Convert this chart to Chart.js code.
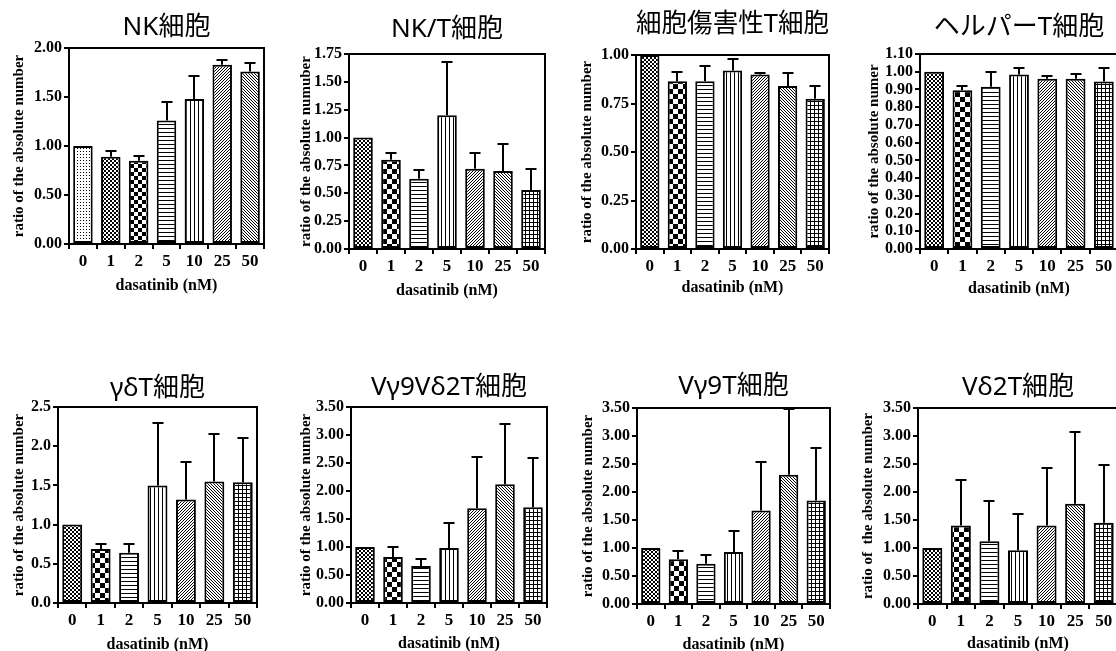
<!DOCTYPE html>
<html>
<head>
<meta charset="utf-8">
<script src="https://cdn.jsdelivr.net/npm/chart.js@4.4.1/dist/chart.umd.min.js"></script>
<style>
  html, body { margin: 0; padding: 0; background: #fff; }
  body { position: relative; width: 1116px; height: 651px; overflow: hidden; }
  canvas { position: absolute; }
</style>
</head>
<body>
<script>
// ---- data ---------------------------------------------------------------
const doses = ['0', '1', '2', '5', '10', '25', '50'];
const xTitle = 'dasatinib (nM)';

// NK cells
const nkTitle = 'NK細胞';
const nkYTitle = 'ratio of the absolute number';
const nkMean = [1.00, 0.89, 0.85, 1.26, 1.48, 1.83, 1.76];
const nkSd   = [0, 0.06, 0.05, 0.19, 0.23, 0.05, 0.09];
const nkTicks = ['0.00', '0.50', '1.00', '1.50', '2.00'];

// NK/T cells
const nktTitle = 'NK/T細胞';
const nktYTitle = 'ratio of the absolute numuber';
const nktMean = [1.00, 0.80, 0.63, 1.20, 0.72, 0.70, 0.53];
const nktSd   = [0, 0.06, 0.08, 0.48, 0.14, 0.24, 0.19];
const nktTicks = ['0.00', '0.25', '0.50', '0.75', '1.00', '1.25', '1.50', '1.75'];

// cytotoxic T cells
const ctlTitle = '細胞傷害性T細胞';
const ctlYTitle = 'ratio of the absolute number';
const ctlMean = [1.00, 0.865, 0.865, 0.92, 0.90, 0.84, 0.775];
const ctlSd   = [0, 0.045, 0.08, 0.06, 0.006, 0.065, 0.065];
const ctlTicks = ['0.00', '0.25', '0.50', '0.75', '1.00'];

// helper T cells
const thTitle = 'ヘルパーT細胞';
const thYTitle = 'ratio of the absolute numer';
const thMean = [1.00, 0.895, 0.915, 0.985, 0.96, 0.96, 0.945];
const thSd   = [0, 0.025, 0.085, 0.035, 0.015, 0.025, 0.075];
const thTicks = ['0.00', '0.10', '0.20', '0.30', '0.40', '0.50', '0.60',
                 '0.70', '0.80', '0.90', '1.00', '1.10'];

// gamma-delta T cells
const gdTitle = 'γδT細胞';
const gdYTitle = 'ratio of the absolute number';
const gdMean = [1.00, 0.69, 0.64, 1.50, 1.32, 1.55, 1.54];
const gdSd   = [0, 0.06, 0.11, 0.80, 0.48, 0.61, 0.56];
const gdTicks = ['0.0', '0.5', '1.0', '1.5', '2.0', '2.5'];

// Vγ9Vδ2 T cells
const g9d2Title = 'Vγ9Vδ2T細胞';
const g9d2YTitle = 'ratio of the absolute number';
const g9d2Mean = [1.00, 0.82, 0.66, 0.98, 1.69, 2.12, 1.71];
const g9d2Sd   = [0, 0.18, 0.13, 0.44, 0.91, 1.08, 0.88];
const g9d2Ticks = ['0.00', '0.50', '1.00', '1.50', '2.00', '2.50', '3.00', '3.50'];

// Vγ9 T cells
const g9Title = 'Vγ9T細胞';
const g9YTitle = 'ratio of the absolute number';
const g9Mean = [1.00, 0.80, 0.72, 0.93, 1.67, 2.31, 1.85];
const g9Sd   = [0, 0.14, 0.16, 0.38, 0.86, 1.17, 0.94];
const g9Ticks = ['0.00', '0.50', '1.00', '1.50', '2.00', '2.50', '3.00', '3.50'];

// Vδ2 T cells
const d2Title = 'Vδ2T細胞';
const d2YTitle = 'ratio of  the absolute number';
const d2Mean = [1.00, 1.40, 1.12, 0.96, 1.40, 1.79, 1.45];
const d2Sd   = [0, 0.82, 0.72, 0.65, 1.02, 1.29, 1.04];
const d2Ticks = ['0.00', '0.50', '1.00', '1.50', '2.00', '2.50', '3.00', '3.50'];

// fill patterns per dose
const nkFills = ['dots', 'check2', 'check4', 'hlines', 'vlines', 'diagUp', 'diagDown'];
const tFills  = ['check2', 'check5', 'hlines', 'vlines', 'diagUp', 'diagDown', 'grid'];

// ---- styling ------------------------------------------------------------
const SERIF = '"Liberation Serif", "Times New Roman", serif';
const SANS = '"Noto Sans", "Noto Sans CJK JP", sans-serif';
const TITLE_SIZE = 26, TITLE_LH = 1.2;
const YT_SIZE = 15, YT_LH = 1.2;
const XT_SIZE = 16, XT_LH = 1.2;
const YTICK_SIZE = 16, XTICK_SIZE = 17;

// panel placement: plot area (l,t,r,b), title centre y, y-title centre x, x-title centre y
const panels = [
  { title: nkTitle,   yTitle: nkYTitle,   mean: nkMean,   sd: nkSd,   ticks: nkTicks,   fills: nkFills,
    area: { l: 69,  t: 48,  r: 264,  b: 244 }, titleY: 28,  yTitleX: 19,  xTitleY: 285 },
  { title: nktTitle,  yTitle: nktYTitle,  mean: nktMean,  sd: nktSd,  ticks: nktTicks,  fills: tFills,
    area: { l: 349, t: 54,  r: 545,  b: 249 }, titleY: 30,  yTitleX: 306, xTitleY: 290 },
  { title: ctlTitle,  yTitle: ctlYTitle,  mean: ctlMean,  sd: ctlSd,  ticks: ctlTicks,  fills: tFills,
    area: { l: 636, t: 55,  r: 829,  b: 249 }, titleY: 25,  yTitleX: 587, xTitleY: 287 },
  { title: thTitle,   yTitle: thYTitle,   mean: thMean,   sd: thSd,   ticks: thTicks,   fills: tFills,
    area: { l: 920, t: 54,  r: 1118, b: 249 }, titleY: 28,  yTitleX: 874, xTitleY: 288 },
  { title: gdTitle,   yTitle: gdYTitle,   mean: gdMean,   sd: gdSd,   ticks: gdTicks,   fills: tFills,
    area: { l: 58,  t: 407, r: 257,  b: 603 }, titleY: 389, yTitleX: 19,  xTitleY: 644 },
  { title: g9d2Title, yTitle: g9d2YTitle, mean: g9d2Mean, sd: g9d2Sd, ticks: g9d2Ticks, fills: tFills,
    area: { l: 351, t: 407, r: 547,  b: 603 }, titleY: 388, yTitleX: 306, xTitleY: 643 },
  { title: g9Title,   yTitle: g9YTitle,   mean: g9Mean,   sd: g9Sd,   ticks: g9Ticks,   fills: tFills,
    area: { l: 637, t: 408, r: 830,  b: 604 }, titleY: 387, yTitleX: 588, xTitleY: 644 },
  { title: d2Title,   yTitle: d2YTitle,   mean: d2Mean,   sd: d2Sd,   ticks: d2Ticks,   fills: tFills,
    area: { l: 918, t: 408, r: 1118, b: 604 }, titleY: 388, yTitleX: 868, xTitleY: 643 }
];

// ---- hatch / texture fills ---------------------------------------------
function makePattern(kind) {
  const tile = document.createElement('canvas');
  const sizes = { dots: 3, check2: 4, check4: 8, check5: 10, hlines: 4, vlines: 4,
                  diagUp: 3, diagDown: 3, grid: 4 };
  const s = sizes[kind];
  tile.width = s; tile.height = s;
  const g = tile.getContext('2d');
  g.fillStyle = '#fff';
  g.fillRect(0, 0, s, s);
  g.fillStyle = '#000';
  const h = s / 2;
  switch (kind) {
    case 'dots': g.fillRect(1, 1, 1, 1); break;
    case 'check2': case 'check4': case 'check5':
      g.fillRect(0, 0, h, h); g.fillRect(h, h, h, h); break;
    case 'hlines': g.fillRect(0, 0, s, 1); break;
    case 'vlines': g.fillRect(0, 0, 1, s); break;
    case 'diagUp': for (let i = 0; i < s; i++) g.fillRect(i, s - 1 - i, 1, 1); break;
    case 'diagDown': for (let i = 0; i < s; i++) g.fillRect(i, i, 1, 1); break;
    case 'grid': g.fillRect(0, 0, s, 1); g.fillRect(0, 0, 1, s); break;
  }
  return g.createPattern(tile, 'repeat');
}

// ---- plugins ------------------------------------------------------------
// closes the plot box on the top and right
const frameBox = {
  id: 'frameBox',
  afterDraw(chart) {
    const { ctx, chartArea: a } = chart;
    ctx.save();
    ctx.strokeStyle = '#000';
    ctx.lineWidth = 2;
    ctx.beginPath();
    ctx.moveTo(a.left, a.top);
    ctx.lineTo(a.right, a.top);
    ctx.lineTo(a.right, a.bottom);
    ctx.stroke();
    ctx.restore();
  }
};

// upper error whiskers from the SD values
function errorBars(sd) {
  return {
    id: 'errorBars',
    afterDatasetsDraw(chart) {
      const { ctx } = chart;
      const y = chart.scales.y;
      const meta = chart.getDatasetMeta(0);
      const vals = chart.data.datasets[0].data;
      ctx.save();
      ctx.strokeStyle = '#000';
      ctx.lineWidth = 2;
      meta.data.forEach((bar, i) => {
        if (!sd[i]) return;
        const x = Math.round(bar.x);
        const y0 = y.getPixelForValue(vals[i]);
        const y1 = Math.round(y.getPixelForValue(vals[i] + sd[i]));
        ctx.beginPath();
        ctx.moveTo(x, y0);
        ctx.lineTo(x, y1);
        ctx.moveTo(x - 5.5, y1);
        ctx.lineTo(x + 5.5, y1);
        ctx.stroke();
      });
      ctx.restore();
    }
  };
}

// ---- build the eight charts --------------------------------------------
panels.forEach(p => {
  const a = p.area;
  const titleLH = TITLE_SIZE * TITLE_LH;
  const canvasTop = Math.round(p.titleY - titleLH / 2);
  const titlePadBottom = a.t - canvasTop - titleLH;
  const canvasLeft = Math.round(p.yTitleX - (YT_SIZE * YT_LH) / 2);
  const yW = a.l - canvasLeft;
  const canvasBottom = Math.round(p.xTitleY + (XT_SIZE * XT_LH) / 2);
  const xH = canvasBottom - a.b;
  const W = a.r + 2 - canvasLeft;
  const H = canvasBottom - canvasTop;

  const cv = document.createElement('canvas');
  cv.width = W; cv.height = H;
  cv.style.left = canvasLeft + 'px';
  cv.style.top = canvasTop + 'px';
  cv.style.width = W + 'px';
  cv.style.height = H + 'px';
  document.body.appendChild(cv);

  const tickVals = p.ticks.map(Number);
  const yMax = tickVals[tickVals.length - 1];
  const step = tickVals[1] - tickVals[0];

  const axisGrid = { display: true, drawOnChartArea: false, drawTicks: true,
                     tickLength: 5, color: '#000', lineWidth: 2 };
  const axisBorder = { display: true, color: '#000', width: 2 };

  new Chart(cv, {
    type: 'bar',
    data: {
      labels: doses,
      datasets: [{
        data: p.mean,
        backgroundColor: p.fills.map(makePattern),
        borderColor: '#000',
        borderWidth: 2,
        borderSkipped: false,
        barPercentage: 0.7,
        categoryPercentage: 1
      }]
    },
    options: {
      responsive: false,
      animation: false,
      devicePixelRatio: 1,
      layout: { padding: { left: 0, right: 2, top: 0, bottom: 0 } },
      plugins: {
        legend: { display: false },
        tooltip: { enabled: false },
        title: {
          display: true, text: p.title, fullSize: false, color: '#000',
          font: { family: SANS, size: TITLE_SIZE, weight: 'normal', lineHeight: TITLE_LH },
          padding: { top: 0, bottom: titlePadBottom }
        }
      },
      scales: {
        x: {
          grid: axisGrid,
          border: axisBorder,
          ticks: { color: '#000', font: { family: SERIF, size: XTICK_SIZE, weight: 'bold' },
                   padding: 2, maxRotation: 0, autoSkip: false },
          title: { display: true, text: xTitle, color: '#000',
                   font: { family: SERIF, size: XT_SIZE, weight: 'bold', lineHeight: XT_LH },
                   padding: { top: 0, bottom: 0 } },
          afterFit(s) { s.height = xH; }
        },
        y: {
          min: 0, max: yMax,
          grid: axisGrid,
          border: axisBorder,
          ticks: {
            stepSize: step, color: '#000', padding: 2, autoSkip: false,
            font: { family: SERIF, size: YTICK_SIZE, weight: 'bold' },
            callback: v => {
              const k = tickVals.findIndex(t => Math.abs(t - v) < 1e-6);
              return k >= 0 ? p.ticks[k] : '';
            }
          },
          title: { display: true, text: p.yTitle, color: '#000',
                   font: { family: SERIF, size: YT_SIZE, weight: 'bold', lineHeight: YT_LH },
                   padding: { top: 0, bottom: 0 } },
          afterFit(s) { s.width = yW; }
        }
      }
    },
    plugins: [frameBox, errorBars(p.sd)]
  });
});
</script>
</body>
</html>
